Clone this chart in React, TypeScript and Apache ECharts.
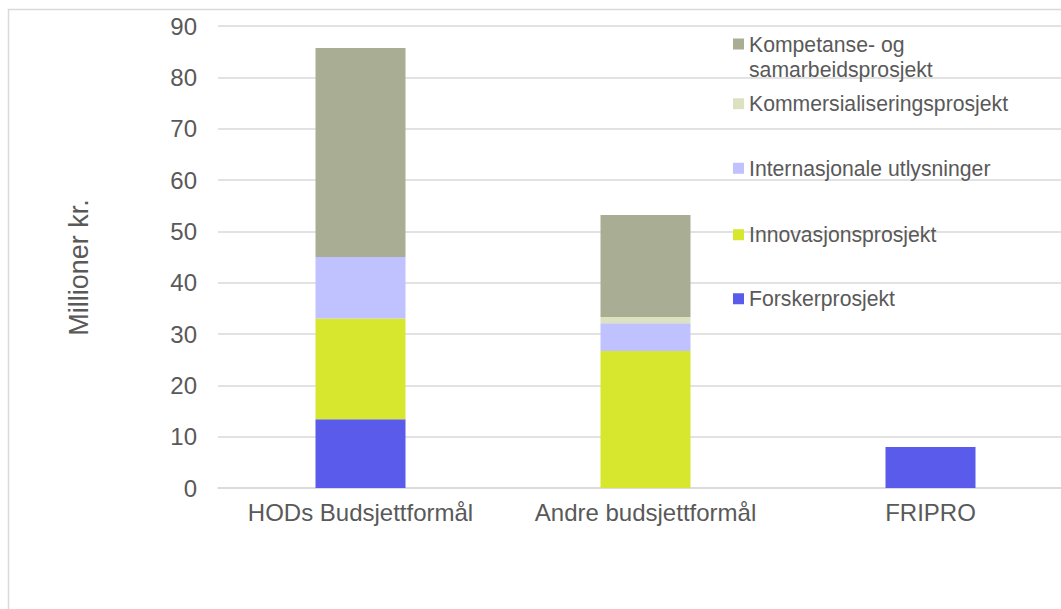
import React, { useEffect, useRef } from "react";
import * as echarts from "echarts";

const categories = ["HODs Budsjettformål", "Andre budsjettformål", "FRIPRO"];
const seriesNames = [
  "Forskerprosjekt",
  "Innovasjonsprosjekt",
  "Internasjonale utlysninger",
  "Kommersialiseringsprosjekt",
  "Kompetanse- og samarbeidsprosjekt",
];
const forsker = [13.4, 0, 8.0];
const innovasjon = [19.6, 26.7, 0];
const internasjonale = [12.0, 5.4, 0];
const kommersialisering = [0, 1.2, 0];
const kompetanse = [40.7, 19.9, 0];
const seriesValues = [forsker, innovasjon, internasjonale, kommersialisering, kompetanse];
const colors = ["#5B5BEB", "#D6E72D", "#C0C2FF", "#DCE2C0", "#A9AD94"];
const yTicks = { min: 0, max: 90, interval: 10 };
const axisTitle = "Millioner kr.";

const FONT = "'Liberation Sans', Arial, sans-serif";
const TEXT = "#595959";
const GRID = "#d9d9d9";

export default function App() {
  const ref = useRef<HTMLDivElement>(null);
  useEffect(() => {
    document.body.style.margin = "0";
    const chart = echarts.init(ref.current!, null, { renderer: "svg" });
    const legendTops = [286.5, 222.5, 156, 91.5, 32.5];
    const legends = seriesNames.map((name, i) => {
      const isTwo = i === 4;
      return {
        show: true,
        data: [name],
        orient: "vertical",
        left: 733,
        top: legendTops[i],
        padding: 0,
        itemWidth: 11,
        itemHeight: isTwo ? 37 : 11,
        itemGap: 5,
        icon: isTwo ? "path://M0 0H11V11H0Z M0 37L11 37" : "rect",
        selectedMode: false,
        formatter: (n: string) => (isTwo ? "Kompetanse- og\nsamarbeidsprosjekt" : n),
        textStyle: {
          fontFamily: FONT,
          fontSize: 21.2,
          color: TEXT,
          lineHeight: 24.5,
          padding: [0, 0, 0, 0],
        },
      };
    });
    chart.setOption({
      animation: false,
      backgroundColor: "#ffffff",
      textStyle: { fontFamily: FONT },
      legend: legends,
      grid: {
        left: 218,
        width: 855,
        top: 26,
        height: 462,
        containLabel: false,
        outerBoundsMode: "none",
      },
      xAxis: {
        type: "category",
        data: categories,
        axisLine: { show: true, lineStyle: { color: GRID, width: 1.5 } },
        axisTick: { show: false },
        axisLabel: { fontFamily: FONT, fontSize: 24, color: TEXT, margin: 12, interval: 0 },
      },
      yAxis: {
        type: "value",
        min: yTicks.min,
        max: yTicks.max,
        interval: yTicks.interval,
        axisLine: { show: false },
        axisTick: { show: false },
        splitLine: { lineStyle: { color: GRID, width: 1.5 } },
        axisLabel: { fontFamily: FONT, fontSize: 24, color: TEXT, margin: 21 },
      },
      graphic: [
        {
          type: "rect",
          shape: { x: 8.5, y: 9.5, width: 1200, height: 800 },
          style: { fill: "none", stroke: GRID, lineWidth: 1.5 },
          silent: true,
          z: -10,
        },
        {
          type: "text",
          x: 78.5,
          y: 267.5,
          rotation: Math.PI / 2,
          style: {
            text: axisTitle,
            fontFamily: FONT,
            fontSize: 27,
            fill: TEXT,
            align: "center",
            verticalAlign: "middle",
          },
        },
      ],
      series: seriesNames.map((name, i) => ({
        name,
        type: "bar",
        stack: "total",
        barWidth: 90,
        data: seriesValues[i],
        itemStyle: { color: colors[i] },
      })),
    });
    return () => chart.dispose();
  }, []);
  return <div ref={ref} style={{ width: 1061, height: 609 }} />;
}
